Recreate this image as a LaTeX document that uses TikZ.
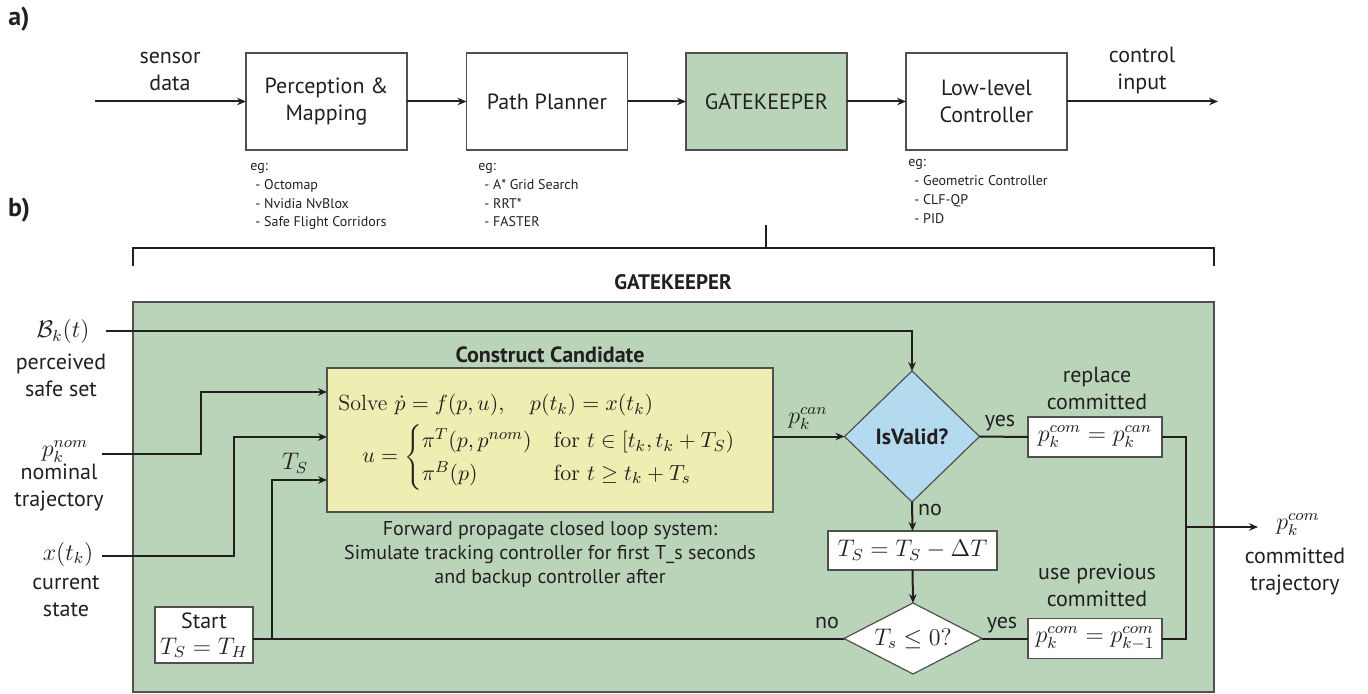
\documentclass[tikz,border=0pt]{standalone}
\usepackage{amsmath}
\usepackage[no-math]{fontspec}
\setsansfont{PT Sans}
\usetikzlibrary{shapes.geometric,arrows.meta,calc}
\definecolor{gkgreen}{HTML}{B9D4B9}
\definecolor{ccyellow}{HTML}{EEEEB2}
\definecolor{vblue}{HTML}{B4DAF0}
\definecolor{boxgray}{HTML}{505050}
\definecolor{linec}{HTML}{231F20}
\newcommand{\lblf}{\sffamily\fontsize{11}{13.5}\selectfont}
\newcommand{\egf}{\sffamily\fontsize{7}{9}\selectfont}
\newcommand{\mthf}{\fontsize{11.5}{14}\selectfont}
\begin{document}
\begin{tikzpicture}[x=0.5pt,y=-0.5pt,
  every node/.append style={text=linec},
  blk/.style={draw=boxgray,line width=0.6pt,minimum width=80.5pt,minimum height=48.5pt,inner sep=0pt,outer sep=0pt,align=center,font=\lblf},
  lbl/.style={align=center,font=\lblf,inner sep=0pt},
  eg/.style={anchor=base west,font=\egf,inner sep=0pt},
  mlbl/.style={font=\mthf,inner sep=0pt},
  mbox/.style={draw=boxgray,line width=0.6pt,fill=white,inner sep=0pt,outer sep=0pt,font=\mthf},
  conn/.style={draw=linec,line width=1pt},
  arr/.style={conn,-{Stealth[length=4.5pt,width=3.8pt]}},
  brk/.style={draw=linec,line width=1.3pt}
]
\useasboundingbox (0,0) rectangle (1368,694);

% ---------- part a ----------
\node[font=\sffamily\bfseries\fontsize{13}{15}\selectfont,inner sep=0pt] (la) at (19,19) {a)};
\node[font=\sffamily\bfseries\fontsize{13}{15}\selectfont,inner sep=0pt] (lb) at (19,210) {b)};

\node[blk] (pm) at (326.5,101.5) {Perception \&\\Mapping};
\node[blk] (pp) at (547,101.5) {Path Planner};
\node[blk,fill=gkgreen] (gk) at (766.5,101.5) {GATEKEEPER};
\node[blk] (ll) at (986.5,101.5) {Low-level\\Controller};

\coordinate (sin) at (95,101.5);
\coordinate (cout) at (1218,101.5);
\node[lbl] (sd) at (170,72) {sensor\\data};
\node[lbl] (ci) at (1142,71) {control\\input};

\draw[arr] (sin) -- (pm.west);
\draw[arr] (pm.east) -- (pp.west);
\draw[arr] (pp.east) -- (gk.west);
\draw[arr] (gk.east) -- (ll.west);
\draw[arr] (ll.east) -- (cout);

\node[eg] (e1) at (250,171) {eg:};
\node[eg] (e2) at (255,190) {- Octomap};
\node[eg] (e3) at (255,209) {- Nvidia NvBlox};
\node[eg] (e4) at (255,227) {- Safe Flight Corridors};

\node[eg] (f1) at (478,171) {eg:};
\node[eg] (f2) at (484,190) {- A* Grid Search};
\node[eg] (f3) at (484,209) {- RRT*};
\node[eg] (f4) at (484,227) {- FASTER};

\node[eg] (g1) at (908,167) {eg:};
\node[eg] (g2) at (914,186) {- Geometric Controller};
\node[eg] (g3) at (914,205) {- CLF-QP};
\node[eg] (g4) at (914,224) {- PID};

% bracket
\draw[brk] (133,266) -- (133,248) -- (1214,248) -- (1214,266);
\draw[brk,line width=1pt] (766,225) -- (766,248);
\node[font=\sffamily\bfseries\fontsize{10.5}{12}\selectfont,inner sep=0pt] (gtitle) at (673,282) {GATEKEEPER};

% ---------- part b ----------
\node[draw=boxgray,line width=0.8pt,fill=gkgreen,minimum width=540.5pt,minimum height=195pt,inner sep=0pt,outer sep=0pt] (gkbig) at (673.5,497) {};

% inputs
\node[mlbl] (bk) at (63,332) {$\mathcal{B}_k(t)$};
\node[lbl] (bkl) at (61,375) {perceived\\safe set};
\node[mlbl] (pnom) at (65,452) {$p_k^{nom}$};
\node[lbl] (pnoml) at (59,488) {nominal\\trajectory};
\node[mlbl] (xk) at (68,554) {$x(t_k)$};
\node[lbl] (xkl) at (66,596) {current\\state};

\coordinate (bin) at (106,331);
\coordinate (nin) at (102,454);
\coordinate (xin) at (102,556);

% construct candidate
\node[draw=boxgray,line width=0.6pt,fill=ccyellow,minimum width=223pt,minimum height=72pt,inner sep=0pt,outer sep=0pt] (cc) at (550,440) {};
\node[font=\sffamily\bfseries\fontsize{11}{13}\selectfont,inner sep=0pt] (cct) at (550,355) {Construct Candidate};
\node[anchor=west,inner sep=0pt,font=\fontsize{11}{13.5}\selectfont] (ccx) at (338,441) {%
\begin{tabular}{@{}l@{}}
Solve $\dot p = f(p,u),\quad p(t_k) = x(t_k)$\\[3pt]
\hspace*{12pt}$u = \begin{cases}\pi^T(p,p^{nom}) & \mathrm{for}\ t\in[t_k,t_k+T_S)\\ \pi^B(p) & \mathrm{for}\ t\geq t_k+T_s\end{cases}$
\end{tabular}};
\node[lbl,font=\sffamily\fontsize{10}{12}\selectfont] (ccd) at (550,554) {Forward propagate closed loop system:\\Simulate tracking controller for first T\_s seconds\\and backup controller after};

\coordinate (ccA) at ($(cc.north west)+(0,24)$);
\coordinate (ccB) at ($(cc.north west)+(0,69)$);
\coordinate (ccC) at ($(cc.north west)+(0,112)$);

% start
\node[mbox,minimum width=49pt,minimum height=28pt,align=center] (st) at (204,635) {{\lblf Start}\\[-1pt]$T_S = T_H$};

% decisions
\node[diamond,draw=boxgray,line width=0.6pt,fill=vblue,minimum width=67.5pt,minimum height=65.5pt,inner sep=1pt,outer sep=0pt,font=\sffamily\bfseries\fontsize{11}{13}\selectfont] (d1) at (912,436.5) {IsValid?};
\node[mbox,minimum width=84.5pt,minimum height=19.5pt] (ts) at (912.5,550.5) {$T_S = T_S - \Delta T$};
\node[diamond,aspect=2,draw=boxgray,line width=0.6pt,fill=white,minimum width=69pt,minimum height=35.5pt,inner sep=1pt,outer sep=0pt,font=\mthf] (d2) at (913,638.5) {$T_s \leq 0?$};

\node[mbox,minimum width=67pt,minimum height=20pt] (rep) at (1095,437) {$p_k^{com} = p_k^{can}$};
\node[mbox,minimum width=67pt,minimum height=20pt] (prev) at (1095,638.5) {$p_k^{com} = p_{k-1}^{com}$};
\node[lbl] (repl) at (1097,388) {replace\\committed};
\node[lbl] (prevl) at (1097,585) {use previous\\committed};

\node[mlbl] (pcan) at (808,419) {$p_k^{can}$};
\node[lbl] (y1) at (1000,423) {yes};
\node[lbl] (n1) at (930,510) {no};
\node[lbl] (n2) at (827,623) {no};
\node[lbl] (y2) at (1002,625) {yes};
\node[mlbl] (tsl) at (295,463) {$T_S$};

\coordinate (mj) at (1186,527);
\coordinate (oend) at (1258,527);
\node[mlbl] (pout) at (1298,525) {$p_k^{com}$};
\node[lbl] (poutl) at (1295,572) {committed\\trajectory};

% connectors
\draw[arr] (bin) -| (d1.north);
\draw[arr] (nin) -- (201,454) |- (ccA);
\draw[arr] (xin) -- (234,556) |- (ccB);
\draw[conn] (d2.west) -- (d2.west -| st.east);
\coordinate (stj) at (272,638.5);
\draw[arr] (stj) |- (ccC);
\draw[arr] (cc.east |- d1.west) -- (d1.west);
\draw[conn] (d1.east) -- (rep.west);
\draw[arr] (d1.south) -- (ts.north);
\draw[arr] (ts.south) -- (d2.north);
\draw[conn] (d2.east) -- (prev.west);
\draw[conn] (rep.east) -| (mj);
\draw[conn] (prev.east) -| (mj);
\draw[arr] (mj) -- (oend);
\end{tikzpicture}
\end{document}
